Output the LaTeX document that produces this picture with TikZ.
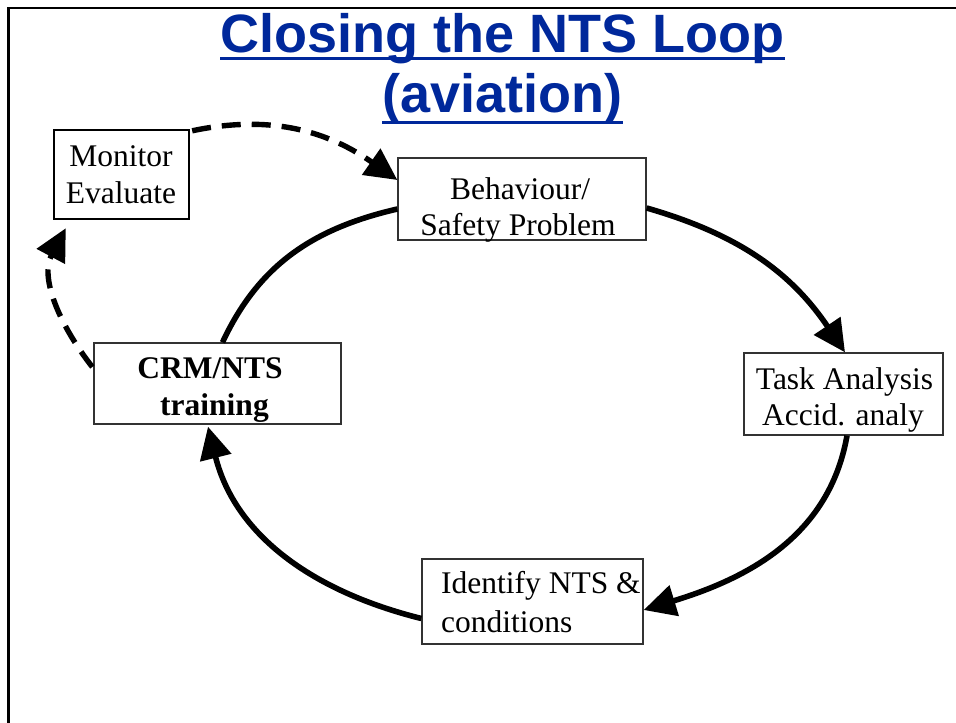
\documentclass[tikz,border=0pt]{standalone}
\usepackage{fontspec}
\setmainfont{Liberation Serif}
\newfontfamily\titlefont{Liberation Sans}
\usetikzlibrary{arrows.meta,calc}
\definecolor{titleblue}{RGB}{0,40,155}
\definecolor{boxgray}{RGB}{50,50,50}
\begin{document}
\begin{tikzpicture}[x=1pt,y=1pt,
  boxnode/.style={draw=boxgray,line width=1.3pt,rectangle,inner sep=0pt,fill=none},
  txt/.style={inner sep=0pt,anchor=base,font=\fontsize{31.5}{37}\selectfont},
  ttl/.style={inner sep=0pt,anchor=base,text=titleblue,font=\titlefont\bfseries\fontsize{54}{60}\selectfont},
  flow/.style={line width=5.6pt,-{Triangle[length=32pt,width=31pt]}},
  flowplain/.style={line width=5.6pt},
  dflow/.style={line width=5.4pt,dash pattern=on 19pt off 11pt,-{Triangle[length=32pt,width=31pt]}}]
\useasboundingbox (0,0) rectangle (956,-723);
% frame
\draw[line width=2.6pt] (8.5,-723) -- (8.5,-8) -- (956,-8);
% title
\node[ttl] (t1) at (502.5,-52) {Closing the NTS Loop};
\node[ttl] (t2) at (502.5,-112) {(aviation)};
\draw[titleblue,line width=2.8pt] ($(t1.base west)+(0,-6.5)$) -- ($(t1.base east)+(0,-6.5)$);
\draw[titleblue,line width=2.8pt] ($(t2.base west)+(0,-10.5)$) -- ($(t2.base east)+(0,-10.5)$);
% boxes
\node[boxnode,draw=black,line width=2.4pt,minimum width=135pt,minimum height=89pt] (mon) at (121.5,-174.5) {};
\node[boxnode,minimum width=248pt,minimum height=82pt] (beh) at (522,-199) {};
\node[boxnode,minimum width=199pt,minimum height=82pt] (task) at (843.5,-394) {};
\node[boxnode,minimum width=221pt,minimum height=85pt] (ident) at (532.5,-601.5) {};
\node[boxnode,minimum width=247pt,minimum height=81pt] (crm) at (217.5,-383.5) {};
% texts
\node[txt] (mon1) at (121,-166) {Monitor};
\node[txt] (mon2) at (121,-203) {Evaluate};
\node[txt] (beh1) at (520,-199) {Behaviour/};
\node[txt] (beh2) at (518,-235) {Safety Problem};
\node[txt] (task1) at (844.5,-389) {Task Analysis};
\node[txt] (task2) at (843,-425) {Accid. analy};
\node[txt,anchor=base west] (id1) at (441,-593) {Identify NTS \&};
\node[txt,anchor=base west] (id2) at (441,-632) {conditions};
\node[txt,font=\fontsize{31.5}{37}\selectfont\bfseries] (crm1) at (210,-378) {CRM/NTS};
\node[txt,font=\fontsize{31.5}{37}\selectfont\bfseries] (crm2) at (214.5,-415) {training};
% solid loop
\draw[flow] ($(beh.east)+(0,-9)$) to[out=-16,in=124] ($(task.north)+(1.5,0)$);
\draw[flow] ($(task.south)+(3.5,0)$) to[out=-100,in=17] ($(ident.east)+(0,-8.5)$);
\draw[flow] ($(ident.west)+(0,-17)$) to[out=166,in=-76] ($(crm.south)+(-9.5,-2)$);
\draw[flowplain] ($(crm.north)+(5,0)$) to[out=65,in=193] ($(beh.west)+(0,-10)$);
% dashed
\draw[dflow] ($(mon.north east)+(2,-2)$) to[out=12,in=145] ($(beh.west)+(0,19)$);
\draw[dflow] ($(crm.west)+(-1,16.5)$) to[out=128,in=-118] ($(mon.south west)+(13,-8)$);
\end{tikzpicture}
\end{document}
